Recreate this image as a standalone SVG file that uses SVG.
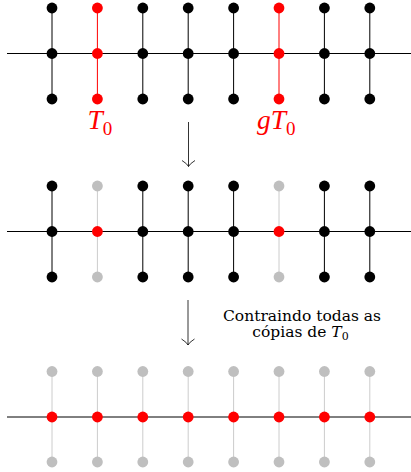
<svg xmlns="http://www.w3.org/2000/svg" width="411" height="472" viewBox="0 0 411 472">
<style>
.bk{fill:#000}.rd{fill:#ff0000}.gy{fill:#bfbfbf}
.lk{stroke:#000;stroke-width:1;fill:none}.lr{stroke:#ff0000;stroke-width:1;fill:none}.lg{stroke:#cccccc;stroke-width:1;fill:none}
.ar{stroke:#000;stroke-width:0.8;fill:none}
.lab{font-family:"Liberation Serif",serif;fill:#ff0000}
.txt{font-family:"DejaVu Serif",serif;font-size:15.5px;fill:#000}
</style>
<defs>
<marker id="hook" viewBox="-8 -8 16 16" markerWidth="16" markerHeight="16" refX="0" refY="0" orient="auto" markerUnits="userSpaceOnUse">
<path d="M-6,-6.5 Q-2.5,-1 0,0 Q-2.5,1 -6,6.5" stroke="#000" stroke-width="0.8" fill="none"/>
</marker>
</defs>
<g id="connectors">
<line class="lk" x1="7" y1="53.5" x2="411" y2="53.5"/>
<line class="lk" x1="52" y1="8" x2="52" y2="99"/>
<line class="lr" x1="97.4" y1="8" x2="97.4" y2="99"/>
<line class="lk" x1="142.8" y1="8" x2="142.8" y2="99"/>
<line class="lk" x1="188.2" y1="8" x2="188.2" y2="99"/>
<line class="lk" x1="233.6" y1="8" x2="233.6" y2="99"/>
<line class="lr" x1="279" y1="8" x2="279" y2="99"/>
<line class="lk" x1="324.4" y1="8" x2="324.4" y2="99"/>
<line class="lk" x1="369.8" y1="8" x2="369.8" y2="99"/>
<line class="lk" x1="7" y1="231.5" x2="411" y2="231.5"/>
<line class="lk" x1="52" y1="186" x2="52" y2="277"/>
<line class="lg" x1="97.4" y1="186" x2="97.4" y2="277"/>
<line class="lk" x1="142.8" y1="186" x2="142.8" y2="277"/>
<line class="lk" x1="188.2" y1="186" x2="188.2" y2="277"/>
<line class="lk" x1="233.6" y1="186" x2="233.6" y2="277"/>
<line class="lg" x1="279" y1="186" x2="279" y2="277"/>
<line class="lk" x1="324.4" y1="186" x2="324.4" y2="277"/>
<line class="lk" x1="369.8" y1="186" x2="369.8" y2="277"/>
<line class="lg" x1="52" y1="371.5" x2="52" y2="462"/>
<line class="lg" x1="97.4" y1="371.5" x2="97.4" y2="462"/>
<line class="lg" x1="142.8" y1="371.5" x2="142.8" y2="462"/>
<line class="lg" x1="188.2" y1="371.5" x2="188.2" y2="462"/>
<line class="lg" x1="233.6" y1="371.5" x2="233.6" y2="462"/>
<line class="lg" x1="279" y1="371.5" x2="279" y2="462"/>
<line class="lg" x1="324.4" y1="371.5" x2="324.4" y2="462"/>
<line class="lg" x1="369.8" y1="371.5" x2="369.8" y2="462"/>
<line class="lk" x1="7" y1="417" x2="411" y2="417"/>
<line class="ar" x1="188.5" y1="122" x2="188.5" y2="166.5" marker-end="url(#hook)"/>
<line class="ar" x1="188" y1="300" x2="188" y2="345" marker-end="url(#hook)"/>
</g>
<g id="row1">
<g id="r1t1"><circle class="bk" cx="52" cy="8" r="5.4"/></g>
<g id="r1m1"><circle class="bk" cx="52" cy="53.5" r="5.4"/></g>
<g id="r1b1"><circle class="bk" cx="52" cy="99" r="5.4"/></g>
<g id="r1t2"><circle class="rd" cx="97.4" cy="8" r="5.4"/></g>
<g id="r1m2"><circle class="rd" cx="97.4" cy="53.5" r="5.4"/></g>
<g id="r1b2"><circle class="rd" cx="97.4" cy="99" r="5.4"/></g>
<g id="r1t3"><circle class="bk" cx="142.8" cy="8" r="5.4"/></g>
<g id="r1m3"><circle class="bk" cx="142.8" cy="53.5" r="5.4"/></g>
<g id="r1b3"><circle class="bk" cx="142.8" cy="99" r="5.4"/></g>
<g id="r1t4"><circle class="bk" cx="188.2" cy="8" r="5.4"/></g>
<g id="r1m4"><circle class="bk" cx="188.2" cy="53.5" r="5.4"/></g>
<g id="r1b4"><circle class="bk" cx="188.2" cy="99" r="5.4"/></g>
<g id="r1t5"><circle class="bk" cx="233.6" cy="8" r="5.4"/></g>
<g id="r1m5"><circle class="bk" cx="233.6" cy="53.5" r="5.4"/></g>
<g id="r1b5"><circle class="bk" cx="233.6" cy="99" r="5.4"/></g>
<g id="r1t6"><circle class="rd" cx="279" cy="8" r="5.4"/></g>
<g id="r1m6"><circle class="rd" cx="279" cy="53.5" r="5.4"/></g>
<g id="r1b6"><circle class="rd" cx="279" cy="99" r="5.4"/></g>
<g id="r1t7"><circle class="bk" cx="324.4" cy="8" r="5.4"/></g>
<g id="r1m7"><circle class="bk" cx="324.4" cy="53.5" r="5.4"/></g>
<g id="r1b7"><circle class="bk" cx="324.4" cy="99" r="5.4"/></g>
<g id="r1t8"><circle class="bk" cx="369.8" cy="8" r="5.4"/></g>
<g id="r1m8"><circle class="bk" cx="369.8" cy="53.5" r="5.4"/></g>
<g id="r1b8"><circle class="bk" cx="369.8" cy="99" r="5.4"/></g>
</g>
<g id="labels">
<text class="lab" x="87.5" y="128.5" font-size="27.5" font-style="italic">T<tspan font-style="normal" font-size="19" dy="6">0</tspan></text>
<text class="lab" x="257" y="128.5" font-size="27.5" font-style="italic">gT<tspan font-style="normal" font-size="19" dy="6">0</tspan></text>
<text class="txt" x="302" y="320.5" text-anchor="middle">Contraindo todas as</text>
<text class="txt" x="300.5" y="337" text-anchor="middle">cópias de <tspan font-style="italic">T</tspan><tspan font-size="11" dy="2.5">0</tspan></text>
</g>
<g id="row2">
<g id="r2t1"><circle class="bk" cx="52" cy="186" r="5.4"/></g>
<g id="r2m1"><circle class="bk" cx="52" cy="231.5" r="5.4"/></g>
<g id="r2b1"><circle class="bk" cx="52" cy="277" r="5.4"/></g>
<g id="r2t2"><circle class="gy" cx="97.4" cy="186" r="5.4"/></g>
<g id="r2m2"><circle class="rd" cx="97.4" cy="231.5" r="5.4"/></g>
<g id="r2b2"><circle class="gy" cx="97.4" cy="277" r="5.4"/></g>
<g id="r2t3"><circle class="bk" cx="142.8" cy="186" r="5.4"/></g>
<g id="r2m3"><circle class="bk" cx="142.8" cy="231.5" r="5.4"/></g>
<g id="r2b3"><circle class="bk" cx="142.8" cy="277" r="5.4"/></g>
<g id="r2t4"><circle class="bk" cx="188.2" cy="186" r="5.4"/></g>
<g id="r2m4"><circle class="bk" cx="188.2" cy="231.5" r="5.4"/></g>
<g id="r2b4"><circle class="bk" cx="188.2" cy="277" r="5.4"/></g>
<g id="r2t5"><circle class="bk" cx="233.6" cy="186" r="5.4"/></g>
<g id="r2m5"><circle class="bk" cx="233.6" cy="231.5" r="5.4"/></g>
<g id="r2b5"><circle class="bk" cx="233.6" cy="277" r="5.4"/></g>
<g id="r2t6"><circle class="gy" cx="279" cy="186" r="5.4"/></g>
<g id="r2m6"><circle class="rd" cx="279" cy="231.5" r="5.4"/></g>
<g id="r2b6"><circle class="gy" cx="279" cy="277" r="5.4"/></g>
<g id="r2t7"><circle class="bk" cx="324.4" cy="186" r="5.4"/></g>
<g id="r2m7"><circle class="bk" cx="324.4" cy="231.5" r="5.4"/></g>
<g id="r2b7"><circle class="bk" cx="324.4" cy="277" r="5.4"/></g>
<g id="r2t8"><circle class="bk" cx="369.8" cy="186" r="5.4"/></g>
<g id="r2m8"><circle class="bk" cx="369.8" cy="231.5" r="5.4"/></g>
<g id="r2b8"><circle class="bk" cx="369.8" cy="277" r="5.4"/></g>
</g>
<g id="row3">
<g id="r3t1"><circle class="gy" cx="52" cy="371.5" r="5.4"/></g>
<g id="r3m1"><circle class="rd" cx="52" cy="417" r="5.4"/></g>
<g id="r3b1"><circle class="gy" cx="52" cy="462" r="5.4"/></g>
<g id="r3t2"><circle class="gy" cx="97.4" cy="371.5" r="5.4"/></g>
<g id="r3m2"><circle class="rd" cx="97.4" cy="417" r="5.4"/></g>
<g id="r3b2"><circle class="gy" cx="97.4" cy="462" r="5.4"/></g>
<g id="r3t3"><circle class="gy" cx="142.8" cy="371.5" r="5.4"/></g>
<g id="r3m3"><circle class="rd" cx="142.8" cy="417" r="5.4"/></g>
<g id="r3b3"><circle class="gy" cx="142.8" cy="462" r="5.4"/></g>
<g id="r3t4"><circle class="gy" cx="188.2" cy="371.5" r="5.4"/></g>
<g id="r3m4"><circle class="rd" cx="188.2" cy="417" r="5.4"/></g>
<g id="r3b4"><circle class="gy" cx="188.2" cy="462" r="5.4"/></g>
<g id="r3t5"><circle class="gy" cx="233.6" cy="371.5" r="5.4"/></g>
<g id="r3m5"><circle class="rd" cx="233.6" cy="417" r="5.4"/></g>
<g id="r3b5"><circle class="gy" cx="233.6" cy="462" r="5.4"/></g>
<g id="r3t6"><circle class="gy" cx="279" cy="371.5" r="5.4"/></g>
<g id="r3m6"><circle class="rd" cx="279" cy="417" r="5.4"/></g>
<g id="r3b6"><circle class="gy" cx="279" cy="462" r="5.4"/></g>
<g id="r3t7"><circle class="gy" cx="324.4" cy="371.5" r="5.4"/></g>
<g id="r3m7"><circle class="rd" cx="324.4" cy="417" r="5.4"/></g>
<g id="r3b7"><circle class="gy" cx="324.4" cy="462" r="5.4"/></g>
<g id="r3t8"><circle class="gy" cx="369.8" cy="371.5" r="5.4"/></g>
<g id="r3m8"><circle class="rd" cx="369.8" cy="417" r="5.4"/></g>
<g id="r3b8"><circle class="gy" cx="369.8" cy="462" r="5.4"/></g>
</g>
</svg>
